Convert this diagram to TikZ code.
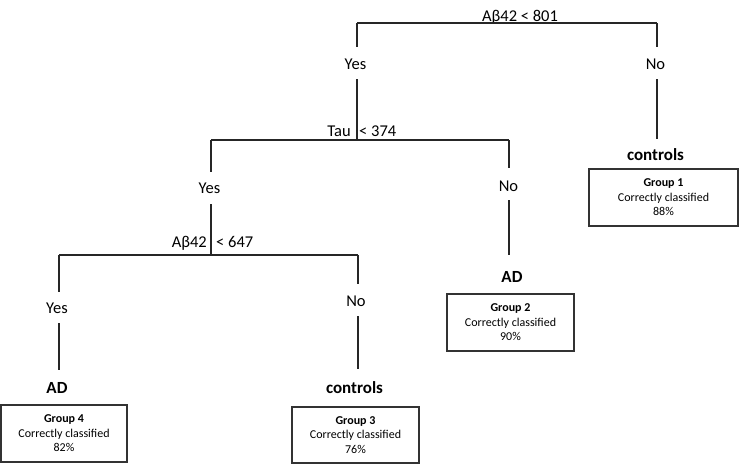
\documentclass[tikz,border=0pt]{standalone}
\usepackage{fontspec}
\setmainfont{Carlito}
\begin{document}
\begin{tikzpicture}[x=1pt,y=-1pt,
  ln/.style={draw=black!85, line width=1.2pt},
  lab/.style={font=\fontsize{16.5}{18}\selectfont, inner sep=0pt, anchor=base},
  cls/.style={font=\bfseries\fontsize{17}{19}\selectfont, inner sep=0pt, anchor=base},
  grp/.style={draw=black!80, line width=1.3pt, align=center, inner sep=0pt,
              font=\fontsize{12}{14.5}\selectfont}]
\useasboundingbox (0,0) rectangle (739,464);

% ---------- level 1 ----------
\coordinate (s1l) at (357,23);
\coordinate (s1r) at (657,23);
\coordinate (y1a) at (357,47);
\coordinate (y1b) at (357,79);
\coordinate (n1a) at (657,47);
\coordinate (n1b) at (657,79);
\coordinate (n1c) at (657,139);
\node[lab] (c1) at (520,21) {Aβ42 < 801};
\node[lab] (yes1) at (355.5,69) {Yes};
\node[lab] (no1) at (655.5,69) {No};
\node[cls] (ctl1) at (655.5,160) {controls};
\node[grp, minimum width=149pt, minimum height=57pt] (g1) at (663.5,197.5)
  {\textbf{Group 1}\\Correctly classified\\88\%};
\draw[ln] (s1l) -- (s1r);
\draw[ln] (s1l) -- (y1a);
\draw[ln] (s1r) -- (n1a);
\draw[ln] (n1b) -- (n1c);

% ---------- level 2 ----------
\coordinate (s2c) at (357,140);
\coordinate (s2l) at (211,140);
\coordinate (s2r) at (509,140);
\coordinate (y2a) at (211,172);
\coordinate (y2b) at (211,204);
\coordinate (n2a) at (509,168);
\coordinate (n2b) at (509,200);
\coordinate (n2c) at (509,255);
\node[lab, anchor=base east] (c2a) at (351,136) {Tau};
\node[lab, anchor=base west] (c2b) at (359,136) {< 374};
\node[lab] (yes2) at (209.5,193) {Yes};
\node[lab] (no2) at (508.5,191) {No};
\node[cls] (ad2) at (512,282) {AD};
\node[grp, minimum width=127pt, minimum height=57pt] (g2) at (510.5,322.5)
  {\textbf{Group 2}\\Correctly classified\\90\%};
\draw[ln] (y1b) -- (s2c);
\draw[ln] (s2l) -- (s2r);
\draw[ln] (s2l) -- (y2a);
\draw[ln] (s2r) -- (n2a);
\draw[ln] (n2b) -- (n2c);

% ---------- level 3 ----------
\coordinate (s3c) at (211,255);
\coordinate (s3l) at (59,255);
\coordinate (s3r) at (358,255);
\coordinate (y3a) at (59,292);
\coordinate (y3b) at (59,323);
\coordinate (y3c) at (59,370);
\coordinate (n3a) at (358,284);
\coordinate (n3b) at (358,316);
\coordinate (n3c) at (358,369);
\node[lab, anchor=base east] (c3a) at (207,247) {Aβ42};
\node[lab, anchor=base west] (c3b) at (216,247) {< 647};
\node[lab] (yes3) at (57,313) {Yes};
\node[lab] (no3) at (356,306) {No};
\node[cls] (ad3) at (57,393) {AD};
\node[cls] (ctl3) at (354.5,393) {controls};
\node[grp, minimum width=126pt, minimum height=57pt] (g4) at (64,433.5)
  {\textbf{Group 4}\\Correctly classified\\82\%};
\node[grp, minimum width=127pt, minimum height=56pt] (g3) at (355.5,435)
  {\textbf{Group 3}\\Correctly classified\\76\%};
\draw[ln] (y2b) -- (s3c);
\draw[ln] (s3l) -- (s3r);
\draw[ln] (s3l) -- (y3a);
\draw[ln] (y3b) -- (y3c);
\draw[ln] (s3r) -- (n3a);
\draw[ln] (n3b) -- (n3c);
\end{tikzpicture}
\end{document}
